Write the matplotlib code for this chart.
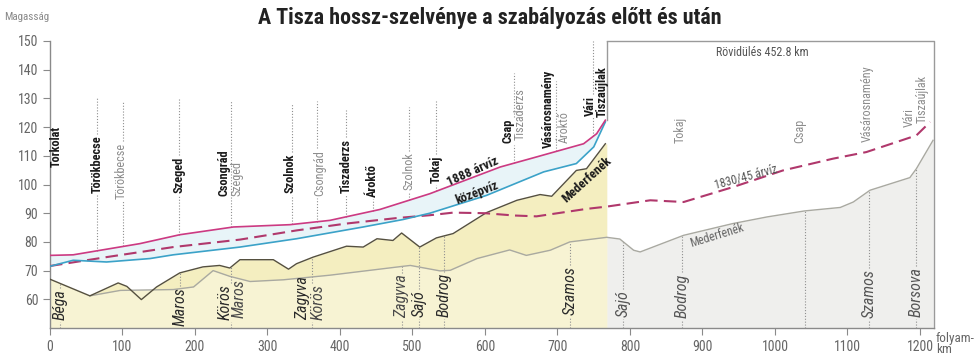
import numpy as np
import matplotlib
matplotlib.use('Agg')
import matplotlib.pyplot as plt
from matplotlib import font_manager

_w = {}
for _f in font_manager.fontManager.ttflist:
    _w.setdefault(_f.name, set()).add((_f.weight if isinstance(_f.weight, int) else 400, _f.style))
_cands = ['Liberation Sans Narrow', 'Roboto Condensed', 'Archivo Narrow', 'PT Sans Narrow',
          'Fira Sans Condensed', 'IBM Plex Sans Condensed', 'Encode Sans Condensed', 'Asap Condensed',
          'Barlow Semi Condensed', 'Open Sans Condensed', 'Pragati Narrow', 'Liberation Sans']


def _ok(c):
    s = _w.get(c, set())
    return (any(w >= 600 for w, st in s) and any(w < 600 and st == 'normal' for w, st in s)
            and any(st == 'italic' for w, st in s))


FONT = next((c for c in _cands if _ok(c)), 'DejaVu Sans')
plt.rcParams['font.family'] = [FONT, 'DejaVu Sans']

# ---------------- data ----------------
pink_km = [0, 32, 124, 179, 253, 331, 386, 455, 524, 621, 671, 736, 754, 766]
pink_v = [75.3, 75.5, 79.4, 82.5, 85.2, 86.0, 87.5, 91.3, 96.8, 106.1, 109.6, 114.2, 117.7, 122.4]

blue_km = [0, 32, 78, 138, 170, 262, 340, 432, 487, 524, 602, 681, 726, 750, 766]
blue_v = [71.5, 73.6, 73.0, 74.2, 75.5, 78.2, 81.1, 85.2, 87.8, 90.0, 96.2, 104.4, 107.3, 113.1, 121.8]

dash_km = [0, 78, 170, 262, 340, 409, 478, 524, 556, 600, 640, 671, 740, 768, 828, 874, 942, 1011, 1080, 1126, 1195, 1214]
dash_v = [71.6, 74.7, 78.2, 80.8, 84.0, 86.4, 88.3, 89.3, 90.2, 90.0, 89.2, 88.9, 91.5, 92.3, 94.5, 93.9, 99.1, 104.9, 109.0, 111.3, 117.1, 121.8]

dark_km = [0, 55, 94, 106, 126, 147, 179, 211, 234, 248, 262, 308, 329, 340, 363, 409, 432, 451, 473, 485,
           510, 533, 556, 602, 644, 676, 692, 726, 740, 766]
dark_v = [67.0, 61.2, 65.7, 64.5, 59.9, 64.3, 69.2, 71.3, 71.8, 70.9, 73.8, 73.8, 70.5, 72.4, 74.7, 78.5, 78.2, 81.1, 80.5, 83.1,
          78.2, 81.4, 82.9, 90.2, 94.5, 96.5, 95.9, 104.9, 105.5, 114.2]

gray_km = [55, 97, 170, 198, 225, 248, 276, 322, 386, 487, 497, 538, 552, 589, 634, 657, 690, 717, 768,
           786, 805, 814, 874, 942, 989, 1041, 1090, 1108, 1131, 1186, 1195, 1218]
gray_v = [61.2, 63.1, 63.4, 64.3, 70.0, 68.0, 66.2, 66.8, 68.4, 71.5, 71.8, 69.9, 70.1, 74.2, 77.2, 75.3, 77.1, 80.0, 81.6,
          81.0, 77.1, 76.5, 82.3, 86.4, 88.7, 90.8, 92.0, 93.9, 98.0, 102.4, 105.5, 115.4]

top_names = ['Torkolat', 'Törökbecse', 'Törökbecse', 'Szeged', 'Csongrád', 'Szeged', 'Szolnok', 'Csongrád',
             'Tiszaderzs', 'Ároktő', 'Szolnok', 'Tokaj', 'Csap', 'Tiszaderzs', 'Vásárosnamény', 'Ároktő',
             'Vári', 'Tiszaújlak', 'Tokaj', 'Csap', 'Vásárosnamény', 'Vári', 'Tiszaújlak']
top_km = [9, 65, 98, 178, 240, 258, 331, 372, 408, 445, 495, 533, 632, 649, 688, 709, 745, 762, 869, 1034, 1127, 1185, 1203]
top_base = [106, 97, 95, 97, 96, 96, 97, 96, 97, 95.5, 98, 100.4, 114.4, 115.4, 112.6, 114.4, 124, 123.4,
            114.4, 114.4, 114.7, 120, 121.3]
top_kind = ['new', 'new', 'old', 'new', 'new', 'old', 'new', 'old', 'new', 'new', 'old', 'new', 'new', 'old',
            'new', 'old', 'new', 'new', 'right', 'right', 'right', 'right', 'right']

top_line_km = [65, 101, 178, 249, 334, 368, 408, 445, 495, 533, 640, 698, 749]
top_line_top = [130, 129, 130, 129, 128, 129, 126, 107, 127, 129, 139, 136, 150]

bot_names = ['Béga', 'Maros', 'Körös', 'Maros', 'Zagyva', 'Körös', 'Zagyva', 'Sajó', 'Bodrog', 'Szamos',
             'Sajó', 'Bodrog', 'Szamos', 'Borsova']
bot_km = [14, 179, 242, 261, 349, 370, 485, 509, 543, 717, 790, 872, 1130, 1195]
bot_base = [52.7, 50.6, 52.7, 53.4, 52.7, 52.7, 53.4, 53.7, 53.7, 54.4, 53.7, 53.4, 53.4, 53.7]
bot_kind = ['new', 'new', 'new', 'old', 'new', 'old', 'old', 'new', 'new', 'new', 'right', 'right', 'right', 'right']

bot_line_km = [14, 179, 250, 361, 485, 509, 543, 717, 790, 872, 1041, 1130, 1195]
bot_line_curve = ['dark', 'dark', 'dark', 'dark', 'gray', 'dark', 'dark', 'gray', 'gray', 'gray', 'gray', 'gray', 'gray']

x_ticks = list(range(0, 1201, 100))
y_ticks = list(range(60, 151, 10))

TITLE = 'A Tisza hossz-szelvénye a szabályozás előtt és után'

# ---------------- figure ----------------
fig = plt.figure(figsize=(9.79, 3.6), dpi=100)
_r = fig.canvas.get_renderer()


def fit(s, px, **kw):
    t = fig.text(0, 0, s, fontsize=10, **kw)
    w = t.get_window_extent(_r).width
    t.remove()
    return 10.0 * px / w


fs_title = fit(TITLE, 464, fontweight='bold')
fs_top = fit('Törökbecse', 58, fontweight='bold')
fs_topold = fit('Törökbecse', 56)
fs_riv = fit('Bodrog', 44, style='italic')
fs_tick = fit('1000', 27)
fs_1888 = fit('1888 árvíz', 55, fontweight='bold')
fs_kv = fit('középvíz', 45, fontweight='bold')
fs_med = fit('Mederfenék', 62, fontweight='bold')
fs_1830 = fit('1830/45 árvíz', 64)
fs_med2 = fit('Mederfenék', 56)
fs_rov = fit('Rövidülés 452.8 km', 92)
fs_mag = fit('Magasság', 45)
fs_fk = fit('folyam-', 39)

ax = fig.add_axes([50 / 979, 32 / 360, (934.5 - 50) / 979, (328 - 41) / 360])
ax.set_xlim(0, 1220)
ax.set_ylim(50, 150)

# fills
ax.fill(np.concatenate([pink_km, blue_km[::-1]]), np.concatenate([pink_v, blue_v[::-1]]),
        color='#e8f4f8', lw=0, zorder=1)
ax.fill_between(dark_km + [768], [50] * (len(dark_km) + 1), dark_v + [dark_v[-1]], color='#f4eec0', lw=0, zorder=1)
left_g = [i for i, k in enumerate(gray_km) if k <= 768]
ax.fill_between([0] + [gray_km[i] for i in left_g], 50, [dark_v[0]] + [gray_v[i] for i in left_g],
                color='#f7f3d3', lw=0, zorder=1.1)
right_g = [i for i, k in enumerate(gray_km) if k >= 768]
ax.fill_between([gray_km[i] for i in right_g], 50, [gray_v[i] for i in right_g],
                color='#efefed', lw=0, zorder=1)

# curves
ax.plot(gray_km, gray_v, color='#a9a9a1', lw=1.0, zorder=3)
ax.plot(dark_km, dark_v, color='#55503f', lw=1.0, zorder=4)
ax.plot(dash_km, dash_v, color='#b0386c', lw=1.5, dashes=(6, 3), zorder=4)
ax.plot(blue_km, blue_v, color='#3ba2c8', lw=1.2, zorder=5)
ax.plot(pink_km, pink_v, color='#cc3a82', lw=1.2, zorder=5)

# right-hand frame
ax.plot([768, 1219, 1219], [150, 150, 50], color='#9a9a9a', lw=1.0, zorder=2, clip_on=False)
ax.plot([768, 768], [150, pink_v[-1]], color='#9a9a9a', lw=1.0, zorder=2)
ax.text(983, 146, 'Rövidülés 452.8 km', ha='center', va='center', fontsize=fs_rov, color='#555555')

# labels
texts = []
for name, k, b, kind in zip(top_names, top_km, top_base, top_kind):
    if kind == 'new':
        t = ax.text(k, b, name, rotation=90, ha='center', va='bottom', fontsize=fs_top,
                    fontweight='bold', color='#1a1a1a', zorder=6)
    else:
        t = ax.text(k, b, name, rotation=90, ha='center', va='bottom', fontsize=fs_topold,
                    color='#8c8c8c', zorder=6)
    texts.append(t)
for name, k, b, kind in zip(bot_names, bot_km, bot_base, bot_kind):
    col = '#2a2a2a' if kind == 'new' else ('#4a4a4a' if kind == 'old' else '#555555')
    t = ax.text(k, b, name, rotation=90, ha='center', va='bottom', fontsize=fs_riv,
                style='italic', color=col, zorder=6)
    texts.append(t)

ax.text(583, 104.6, '1888 árvíz', rotation=24, ha='center', va='center', fontsize=fs_1888,
        fontweight='bold', color='#1a1a1a', zorder=6)
ax.text(589, 97.0, 'középvíz', rotation=21, ha='center', va='center', fontsize=fs_kv,
        fontweight='bold', color='#1a1a1a', zorder=6)
ax.text(740, 101.5, 'Mederfenék', rotation=42, ha='center', va='center', fontsize=fs_med,
        fontweight='bold', color='#1a1a1a', zorder=6)
ax.text(960, 102.5, '1830/45 árvíz', rotation=15, ha='center', va='center', fontsize=fs_1830,
        color='#555555', zorder=6)
ax.text(920, 82.3, 'Mederfenék', rotation=17, ha='center', va='center', fontsize=fs_med2,
        color='#666666', zorder=6)

# axes styling
for s in ['top', 'right']:
    ax.spines[s].set_visible(False)
for s in ['left', 'bottom']:
    ax.spines[s].set_color('#8a8a8a')
    ax.spines[s].set_linewidth(1.0)
ax.set_xticks(x_ticks)
ax.set_yticks(y_ticks)
ax.tick_params(colors='#8a8a8a', labelcolor='#666666', labelsize=fs_tick, length=5, width=0.8, direction='out')

ax.text(1222, 44.5, 'folyam-\nkm', ha='left', va='center', fontsize=fs_fk, color='#666666',
        linespacing=0.75, clip_on=False)
fig.text(27 / 979, 1 - 17 / 360, 'Magasság', ha='center', va='center', fontsize=fs_mag, color='#888888')
fig.text(490 / 979, 1 - 18 / 360, TITLE, ha='center', va='center', fontsize=fs_title,
         fontweight='bold', color='#222222')

# dotted lines, interrupted by the labels they cross
fig.canvas.draw()
renderer = fig.canvas.get_renderer()
inv = ax.transData.inverted()
boxes = []
for t in texts:
    bb = t.get_window_extent(renderer)
    (x0, y0), (x1, y1) = inv.transform([[bb.x0, bb.y0], [bb.x1, bb.y1]])
    boxes.append((x0, x1, y0 - 0.6, y1 + 0.6))


def dotted(k, y0, y1):
    segs = [(y0, y1)]
    for (bx0, bx1, by0, by1) in boxes:
        if bx0 <= k <= bx1:
            new = []
            for (a, b) in segs:
                if by1 <= a or by0 >= b:
                    new.append((a, b))
                else:
                    if by0 > a:
                        new.append((a, by0))
                    if by1 < b:
                        new.append((by1, b))
            segs = new
    for (a, b) in segs:
        if b - a > 0.3:
            ax.plot([k, k], [a, b], color='#8f8f8f', lw=0.8, ls=(0, (1, 1.6)), zorder=2.5)


for k, top in zip(top_line_km, top_line_top):
    dotted(k, float(np.interp(k, pink_km, pink_v)), top)
for k, c in zip(bot_line_km, bot_line_curve):
    if c == 'dark':
        yc = float(np.interp(k, dark_km, dark_v))
    else:
        yc = float(np.interp(k, gray_km, gray_v))
    dotted(k, 50, yc)

fig.savefig('out.png', dpi=100)
